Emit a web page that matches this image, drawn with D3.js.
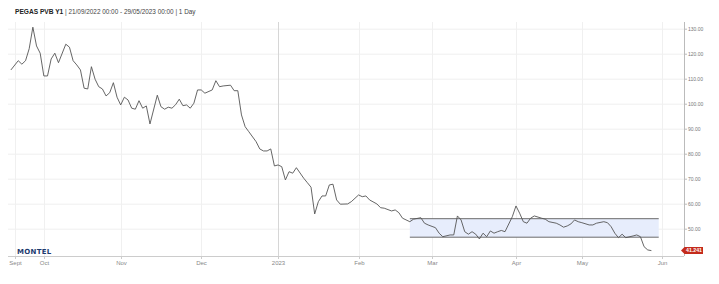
<!DOCTYPE html>
<html>
<head>
<meta charset="utf-8">
<script src="https://cdn.jsdelivr.net/npm/d3@7"></script>
<style>
  body { margin: 0; background: #fff; }
  svg { display: block; }
</style>
</head>
<body>
<div id="chart"></div>
<script>
// trading days: weekdays without these
const holidays = ["2022-12-26", "2023-04-07", "2023-04-10", "2023-05-01"];

const dates = [
  "2022-09-20","2022-09-22","2022-09-23","2022-09-26","2022-09-27","2022-09-28","2022-09-29","2022-09-30",
  "2022-10-03","2022-10-04","2022-10-05","2022-10-06","2022-10-07","2022-10-11","2022-10-12","2022-10-13",
  "2022-10-14","2022-10-17","2022-10-18","2022-10-19","2022-10-20","2022-10-21","2022-10-24","2022-10-25",
  "2022-10-26","2022-10-27","2022-10-28","2022-10-31","2022-11-01","2022-11-02","2022-11-03","2022-11-04",
  "2022-11-07","2022-11-08","2022-11-09","2022-11-10","2022-11-11","2022-11-15","2022-11-16","2022-11-17",
  "2022-11-18","2022-11-21","2022-11-22","2022-11-23","2022-11-24","2022-11-25","2022-11-28","2022-11-29",
  "2022-11-30","2022-12-01","2022-12-02","2022-12-06","2022-12-07","2022-12-08","2022-12-09","2022-12-13",
  "2022-12-14","2022-12-15","2022-12-16","2022-12-19","2022-12-20","2022-12-22","2022-12-23","2022-12-27",
  "2022-12-28","2022-12-29","2022-12-30","2023-01-02","2023-01-03","2023-01-04","2023-01-05","2023-01-06",
  "2023-01-09","2023-01-11","2023-01-12","2023-01-13","2023-01-16","2023-01-17","2023-01-18","2023-01-19",
  "2023-01-20","2023-01-23","2023-01-24","2023-01-25","2023-01-27","2023-01-30","2023-02-01","2023-02-02",
  "2023-02-03","2023-02-06","2023-02-08","2023-02-09","2023-02-10","2023-02-14","2023-02-15","2023-02-16",
  "2023-02-17","2023-02-21","2023-02-22","2023-02-24","2023-02-27","2023-02-28","2023-03-02","2023-03-03",
  "2023-03-06","2023-03-08","2023-03-09","2023-03-10","2023-03-13","2023-03-14","2023-03-15","2023-03-16",
  "2023-03-17","2023-03-20","2023-03-21","2023-03-22","2023-03-23","2023-03-24","2023-03-27","2023-03-28",
  "2023-03-29","2023-03-31","2023-04-03","2023-04-04","2023-04-05","2023-04-06","2023-04-11","2023-04-12",
  "2023-04-14","2023-04-17","2023-04-18","2023-04-20","2023-04-21","2023-04-24","2023-04-25","2023-04-26",
  "2023-04-27","2023-04-28","2023-05-02","2023-05-04","2023-05-05","2023-05-08","2023-05-10","2023-05-11",
  "2023-05-12","2023-05-15","2023-05-16","2023-05-17","2023-05-18","2023-05-22","2023-05-23","2023-05-24",
  "2023-05-25","2023-05-26","2023-05-29"
];

const prices = [
  113.5,117.2,115.8,117.2,122.0,130.6,123.1,120.2,
  111.1,111.1,117.9,120.2,116.4,123.8,122.6,117.2,
  115.5,113.5,106.2,105.9,114.8,109.8,106.8,105.9,
  103.1,104.4,108.4,102.6,99.5,102.6,101.5,98.2,
  97.8,101.2,98.2,99.1,91.9,103.4,98.8,97.8,
  98.6,98.2,99.6,101.8,99.2,99.5,98.2,100.2,
  105.5,105.5,104.2,105.5,109.2,106.8,107.1,107.4,
  105.2,105.2,95.5,90.8,88.8,84.8,81.9,81.1,
  81.1,81.9,75.1,75.5,74.8,69.5,72.8,72.2,
  74.4,70.2,68.4,66.6,55.9,60.8,63.1,63.1,
  67.5,67.8,61.5,59.8,59.9,60.8,63.5,62.8,
  63.1,61.5,59.9,58.4,58.2,57.1,57.5,56.4,
  54.2,52.8,53.8,54.4,52.2,51.5,50.4,48.2,
  46.8,47.5,47.5,55.1,53.5,48.8,47.8,48.8,
  47.8,45.9,48.2,46.8,49.1,48.2,48.8,49.3,
  48.8,54.8,59.1,56.2,52.8,52.2,54.2,55.1,
  54.2,53.8,52.8,52.2,51.5,50.6,51.1,51.9,
  53.5,52.8,52.4,51.5,51.5,52.2,52.8,52.4,
  50.8,48.2,46.4,47.8,46.4,47.1,47.5,46.8,
  42.8,41.5,41.241
];

const xTickDates  = ["2022-09-21","2022-10-03","2022-11-01","2022-12-01","2023-01-02","2023-02-01","2023-03-01","2023-04-03","2023-05-02","2023-06-01"];
const xTickLabels = ["Sept","Oct","Nov","Dec","2023","Feb","Mar","Apr","May","Jun"];
const yTicks = [50, 60, 70, 80, 90, 100, 110, 120, 130];

// drawn channel
const bandFrom = "2023-02-21", bandTo = "2023-05-31";
const bandHigh = 54.0, bandLow = 46.6;

const W = 719, H = 284;
const plotLeft = 8, plotRight = 684, plotTop = 22, plotBottom = 256;

const fmt = d3.timeFormat("%Y-%m-%d");
const tradingDays = d3.timeDay.range(new Date(2022, 8, 20), new Date(2023, 5, 2))
  .filter(d => d.getDay() % 6 !== 0 && !holidays.includes(fmt(d)));
const dayIndex = new Map(tradingDays.map((d, i) => [fmt(d), i]));

const x = d3.scaleLinear()
  .domain([0, dayIndex.get("2023-05-29")])
  .range([10.9, 651.4]);
const y = d3.scaleLinear().domain([50, 130]).range([228.7, 28.7]);

const svg = d3.select("#chart").append("svg")
  .attr("width", W).attr("height", H)
  .style("font-family", "'Liberation Sans', Arial, sans-serif");

// title
const title = svg.append("text").attr("x", 15).attr("y", 13.5)
  .attr("font-size", 6.6).attr("fill", "#222");
title.append("tspan").attr("font-weight", "bold").text("PEGAS PVB Y1");
title.append("tspan").attr("font-size", 6.4).attr("fill", "#444")
  .text(" | 21/09/2022 00:00 - 29/05/2023 00:00 | 1 Day");

// grid
svg.append("g").selectAll("line").data(yTicks).join("line")
  .attr("x1", plotLeft).attr("x2", plotRight)
  .attr("y1", d => y(d) + 0.5).attr("y2", d => y(d) + 0.5)
  .attr("stroke", "#efefef");

svg.append("g").selectAll("line").data(xTickDates).join("line")
  .attr("x1", d => Math.round(x(dayIndex.get(d))) + 0.5)
  .attr("x2", d => Math.round(x(dayIndex.get(d))) + 0.5)
  .attr("y1", plotTop).attr("y2", plotBottom)
  .attr("stroke", (d, i) => xTickLabels[i] === "2023" ? "#d6d6d6" : "#f0f0f0");

// channel
const bx0 = x(dayIndex.get(bandFrom)), bx1 = x(dayIndex.get(bandTo));
svg.append("rect")
  .attr("x", bx0).attr("y", y(bandHigh))
  .attr("width", bx1 - bx0).attr("height", y(bandLow) - y(bandHigh))
  .attr("fill", "#e7edfc");
svg.append("g").selectAll("line").data([bandHigh, bandLow]).join("line")
  .attr("x1", bx0).attr("x2", bx1)
  .attr("y1", d => y(d)).attr("y2", d => y(d))
  .attr("stroke", "#6a6a6a").attr("stroke-width", 1);

// price line
const line = d3.line()
  .x((d, i) => x(dayIndex.get(dates[i])))
  .y(d => y(d));
svg.append("path").datum(prices)
  .attr("d", line)
  .attr("fill", "none")
  .attr("stroke", "#555")
  .attr("stroke-width", 0.9);

// x axis
svg.append("line").attr("x1", plotLeft).attr("x2", plotRight)
  .attr("y1", plotBottom + 0.5).attr("y2", plotBottom + 0.5).attr("stroke", "#ccc");
const xt = svg.append("g").selectAll("g").data(xTickDates).join("g")
  .attr("transform", d => `translate(${Math.round(x(dayIndex.get(d))) + 0.5},${plotBottom})`);
xt.append("line").attr("y1", 0).attr("y2", 3).attr("stroke", "#ccc");
xt.append("text").attr("y", 8.5).attr("text-anchor", "middle")
  .attr("font-size", 6).attr("fill", "#888")
  .text((d, i) => xTickLabels[i]);

// y axis on the right
svg.append("line").attr("x1", plotRight + 0.5).attr("x2", plotRight + 0.5)
  .attr("y1", plotTop).attr("y2", plotBottom).attr("stroke", "#bbb");
const yt = svg.append("g").selectAll("g").data(yTicks).join("g")
  .attr("transform", d => `translate(${plotRight},${y(d) + 0.5})`);
yt.append("line").attr("x1", 0).attr("x2", 3).attr("stroke", "#bbb");
yt.append("text").attr("x", 4).attr("dy", "0.35em")
  .attr("font-size", 5).attr("fill", "#777")
  .text(d => d3.format(".2f")(d));

// last value flag
const last = prices[prices.length - 1];
const ly = y(last);
svg.append("path")
  .attr("d", `M${plotRight - 3},${ly} L${plotRight + 0.5},${ly - 3.5} L${plotRight + 19},${ly - 3.5} L${plotRight + 19},${ly + 3.5} L${plotRight + 0.5},${ly + 3.5} Z`)
  .attr("fill", "#c42b1c");
svg.append("text").attr("x", plotRight + 10).attr("y", ly).attr("dy", "0.35em")
  .attr("text-anchor", "middle").attr("font-size", 5.2).attr("font-weight", "bold")
  .attr("fill", "#fff").text(d3.format(".3f")(last));

// logo
svg.append("text").attr("x", 17).attr("y", 253.5)
  .attr("font-family", "'DejaVu Sans', Verdana, sans-serif")
  .attr("font-weight", "bold").attr("font-size", 7).attr("letter-spacing", 0.3)
  .attr("fill", "#1d3b6f").text("MONTEL");
</script>
</body>
</html>
